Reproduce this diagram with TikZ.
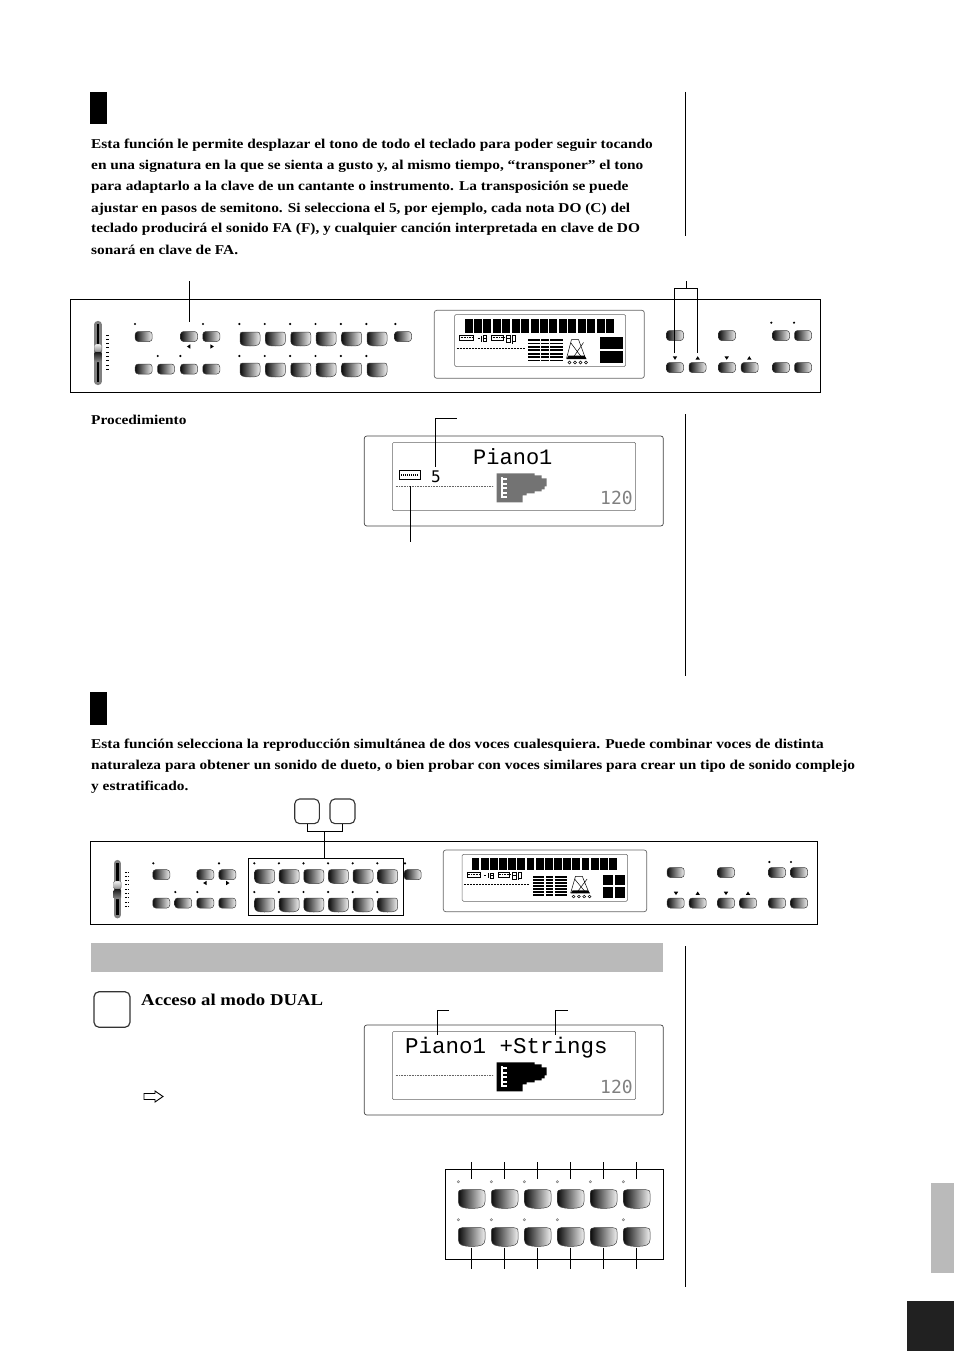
\documentclass[tikz,border=0pt]{standalone}
\usepackage{fontspec}
\setmainfont[FakeStretch=1.138]{Liberation Serif}
\newfontfamily\lcdfont{Liberation Mono}
\newfontfamily\numfont{DejaVu Sans Mono}
\usetikzlibrary{calc}
\tikzset{
	bodyline/.style={anchor=base west, inner sep=0pt, font=\fontsize{13.5}{16}\selectfont\bfseries},
	keyface/.style={left color=black!95, middle color=black!50, right color=black!6, draw=black!75, line width=0.5pt},
	panelframe/.style={draw=black, line width=0.9pt},
	lcdframe/.style={draw=black!60, line width=0.7pt, rounded corners=2.5pt},
	leader/.style={draw=black, line width=0.8pt},
	stepbox/.style={draw=black!80, line width=1.1pt, rounded corners=5pt, inner sep=0pt},
	lcdtext/.style={inner sep=0pt, anchor=base west}
}
\def\smallkey(#1,#2){\shadedraw[keyface, rounded corners=3pt, shift={(#1,#2)}] (-8.5,-5) rectangle (8.5,5);}
\def\bigkey[#1](#2,#3){\shadedraw[keyface, shift={(#2,#3)}, xscale=#1, yscale=#1]
	(-10,-4) .. controls (-10,-6.5) and (-9,-7) .. (-7,-7) -- (7,-7) .. controls (9,-7) and (10,-6.5) .. (10,-4) -- (10,2)
	.. controls (10,6) and (7,7) .. (0,7) .. controls (-7,7) and (-10,6) .. (-10,2) -- cycle;}
\def\dotmark(#1,#2){\fill (#1,#2) circle (1.2);}
\def\pale(#1,#2){\draw[black!55, fill=black!15, line width=0.4pt] (#1,#2) circle (1.2);}
\def\tickup(#1,#2){\fill[shift={(#1,#2)}] (-2.2,1.6) -- (2.2,1.6) -- (0,-1.8) -- cycle;}
\def\tickdown(#1,#2){\fill[shift={(#1,#2)}] (-2.2,-1.6) -- (2.2,-1.6) -- (0,1.8) -- cycle;}
\def\tickleft(#1,#2){\fill[shift={(#1,#2)}] (1.6,-2.2) -- (1.6,2.2) -- (-1.8,0) -- cycle;}
\def\tickright(#1,#2){\fill[shift={(#1,#2)}] (-1.6,-2.2) -- (-1.6,2.2) -- (1.8,0) -- cycle;}
\def\slider(#1,#2,#3,#4){
	\draw[line width=7.2pt, black!50, line cap=round] (#1,#2+3.5) -- (#1,#3-3.5);
	\draw[line width=2.4pt, black] (#1,#2+3) -- (#1,#3-3);
	\shadedraw[top color=black!5, bottom color=black!45, draw=black!60, line width=0.4pt, rounded corners=1.5pt] (#1-3.8,#4) rectangle (#1+3.8,#4+8);
	\shade[top color=black!90, bottom color=black!45, rounded corners=1.5pt] (#1-3.8,#4+8) rectangle (#1+3.8,#4+18);
	\foreach \n in {0,...,8} \draw[black, line width=0.9pt, dash pattern=on 1.6pt off 0.8pt] (#1+8,#4-9+4.3*\n) -- (#1+10.5,#4-9+4.3*\n);
}
% lcd contents, measured from the upper left corner of the inner frame
\def\minilcd[#1,#2](#3,#4){
	\begin{scope}[shift={(#3,#4)}, xscale=#1, yscale=#2]
		\foreach \n in {0,...,15} \fill (10+9.44*\n,4.5) rectangle (18+9.44*\n,18);
		\draw[line width=0.5pt] (5,20.5) rectangle (18.5,26);
		\draw[line width=1.4pt, dash pattern=on 0.8pt off 0.8pt] (6,23.2) -- (18,23.2);
		\draw[line width=0.5pt] (23,24) -- (25,24) (27,21) -- (27,27) (29,21) rectangle (32,27) (29,24) -- (32,24);
		\draw[line width=0.5pt] (37,20.5) rectangle (49,26);
		\draw[line width=1.4pt, dash pattern=on 0.8pt off 0.8pt] (38,23.2) -- (50,23.2);
		\draw[line width=0.6pt] (52,21) rectangle (56,28) (52,24) -- (56,24) (58,20) -- (58,29) (58,21) rectangle (61,27);
		\draw[line width=0.6pt, dash pattern=on 1pt off 0.5pt] (2,34) -- (70,34);
		\foreach \n in {0,...,6} {
			\draw[line width=1.8pt] (73.5,25.5+3.4*\n) -- (85,25.5+3.4*\n);
			\draw[line width=1.8pt] (86.5,25.5+3.4*\n) -- (94,25.5+3.4*\n);
			\draw[line width=1.8pt] (95.5,25.5+3.4*\n) -- (108,25.5+3.4*\n);
		}
		\draw[line width=0.5pt] (117,25) -- (124,25) -- (131,44) (117,25) -- (112,44) (116,28) -- (128,44) (129,28) -- (118,44);
		\fill (114,41) -- (130,41) -- (132,44.5) -- (112,44.5) -- cycle;
		\foreach \n in {0,1,2,3} \draw[line width=0.5pt] (115+5.5*\n,48) circle (1.5);
	\end{scope}
}
\def\pianoicon(#1,#2,#3){
	\begin{scope}[shift={(#1,#2)}]
		\fill[#3] (0,0) -- (38,0) -- (38,2) -- (45,2) -- (45,5) -- (50,5) -- (50,13) -- (48,13) -- (48,16) -- (45,16) -- (45,18) -- (38,18) -- (38,20) -- (30,20) -- (30,22) -- (26,22) -- (26,29) -- (0,29) -- cycle;
		\fill[white] (4,4) rectangle (6,25);
		\foreach \n in {0,...,4} \fill[white] (6,5+4.4*\n) rectangle (10,7+4.4*\n);
	\end{scope}
}
\begin{document}
\begin{tikzpicture}[x=1pt,y=-1pt]
	%%%%% START %%%%%
	\useasboundingbox (0,0) rectangle (954,1351);
	
	\fill (90,92) rectangle (107,124);
	\fill (90,692) rectangle (107,725);
	\draw[line width=0.7pt] (685,92) -- (685,236);
	\draw[line width=0.7pt] (685,414) -- (685,676);
	\draw[line width=0.7pt] (685,946) -- (685,1287);
	
	\node[bodyline] (introa) at (91,149) {Esta función le permite desplazar el tono de todo el teclado para poder seguir tocando};
	\node[bodyline] (introb) at (91,170) {en una signatura en la que se sienta a gusto y, al mismo tiempo, “transponer” el tono};
	\node[bodyline] (introc) at (91,191) {para adaptarlo a la clave de un cantante o instrumento. La transposición se puede};
	\node[bodyline] (introd) at (91,212) {ajustar en pasos de semitono. Si selecciona el 5, por ejemplo, cada nota DO (C) del};
	\node[bodyline] (introe) at (91,233) {teclado producirá el sonido FA (F), y cualquier canción interpretada en clave de DO};
	\node[bodyline] (introf) at (91,254) {sonará en clave de FA.};
	
	% first panel
	\draw[panelframe] (70,299) rectangle (820.5,392);
	\slider(98,321,385,344)
	\smallkey(143.7,336.5) \smallkey(189,336.5) \smallkey(211.3,336.5) \smallkey(403,336.5)
	\smallkey(143.7,369) \smallkey(166,369) \smallkey(189,369) \smallkey(211.3,369)
	\foreach \n in {0,...,5} {
		\bigkey[1](250+25.4*\n,339)
		\bigkey[1](250+25.4*\n,370)
		\dotmark(239.3+25.4*\n,324)
		\dotmark(239.3+25.4*\n,356)
	}
	\dotmark(135,324) \dotmark(203,324) \dotmark(395.3,324) \dotmark(157.7,356) \dotmark(180.3,356)
	\tickleft(188.7,346.5) \tickright(212,346.5)
	\draw[lcdframe] (434.3,310.3) rectangle (644.3,378.3);
	\draw[lcdframe, line width=0.5pt, rounded corners=1.5pt] (454.5,314.5) rectangle (625.7,366.5);
	\minilcd[1,1](454.5,314.5)
	\fill (600,337) rectangle (622.7,349.3);
	\fill (600,351) rectangle (622.7,363);
	\smallkey(675,335.5) \smallkey(727,335.5) \smallkey(781,335.5) \smallkey(803,335.5)
	\foreach \x in {675,697.5,727,749.7,781,803} {\smallkey(\x,367.5)}
	\tickdown(675,358) \tickup(697.7,358) \tickdown(726.7,358) \tickup(749.3,358)
	\dotmark(771.3,322.7) \dotmark(794,322.7)
	\draw[leader] (189,281) -- (189,322);
	\draw[leader] (686.3,281) -- (686.3,288.7);
	\draw[leader] (674.7,353) -- (674.7,288.7) -- (697.7,288.7) -- (697.7,353);
	
	\node[bodyline] (procedure) at (91,424) {Procedimiento};
	
	% display with transpose
	\draw[lcdframe, black!75] (364.3,436) rectangle (663.3,526);
	\draw[lcdframe, line width=0.5pt, rounded corners=1.5pt] (392.3,442.3) rectangle (635.7,510.7);
	\node[lcdtext] (voicea) at (473,464) {\lcdfont\fontsize{22}{22}\selectfont Piano1};
	\node[lcdtext] (transval) at (431,482) {\numfont\fontsize{16}{16}\selectfont 5};
	\draw[line width=0.6pt] (399.3,470.7) rectangle (420,479);
	\draw[line width=2.6pt, dash pattern=on 1pt off 1pt] (401,474.8) -- (419,474.8);
	\draw[black!60, line width=0.7pt, dash pattern=on 0.8pt off 0.8pt] (395.7,486.3) -- (493.3,486.3);
	\pianoicon(496.7,473.3,black!55)
	\node[lcdtext, text=black!50] (tempoa) at (600,504) {\numfont\fontsize{18}{18}\selectfont 120};
	\draw[leader] (456.7,418.3) -- (435.7,418.3) -- (435.7,467.3);
	\draw[leader] (410,486) -- (410,541.7);
	
	\node[bodyline] (duala) at (91,748) {Esta función selecciona la reproducción simultánea de dos voces cualesquiera. Puede combinar voces de distinta};
	\node[bodyline] (dualb) at (91,769) {naturaleza para obtener un sonido de dueto, o bien probar con voces similares para crear un tipo de sonido complejo};
	\node[bodyline] (dualc) at (91,790) {y estratificado.};
	
	% second panel
	\draw[panelframe] (90,841) rectangle (817.5,924.3);
	\slider(117.3,860,918.3,881)
	\smallkey(161.3,874.7) \smallkey(205.3,874.7) \smallkey(227.3,874.7) \smallkey(412.7,874.7)
	\smallkey(161.3,903) \smallkey(183.2,903) \smallkey(205.3,903) \smallkey(227.3,903)
	\foreach \n in {0,...,5} {
		\bigkey[1](264.6+24.6*\n,876.7)
		\bigkey[1](264.6+24.6*\n,905)
		\dotmark(254.3+24.6*\n,863.3)
		\dotmark(254.3+24.6*\n,892)
	}
	\dotmark(153.3,863.3) \dotmark(219,863.3) \dotmark(405,863.3) \dotmark(175.3,892) \dotmark(197.3,892)
	\tickleft(205,883) \tickright(227.7,883)
	\draw[lcdframe] (443.3,850) rectangle (646.7,911.7);
	\draw[lcdframe, line width=0.5pt, rounded corners=1.5pt] (462,854.3) rectangle (627.7,901.3);
	\minilcd[.97,.88](462,854.3)
	\fill (602.7,875) rectangle (612.8,885);
	\fill (614.5,875) rectangle (625,885);
	\fill (602.7,887) rectangle (612.8,897.7);
	\fill (614.5,887) rectangle (625,897.7);
	\smallkey(675.7,872.5) \smallkey(726,872.5) \smallkey(777,872.5) \smallkey(799,872.5)
	\foreach \x in {675.7,697.7,726,748,777,799} {\smallkey(\x,903)}
	\tickdown(676,893.3) \tickup(697.7,893.3) \tickdown(726,893.3) \tickup(748,893.3)
	\dotmark(769.3,862) \dotmark(791,862)
	\draw[black, line width=1pt] (248.3,858.3) rectangle (403.7,915.7);
	
	\node[stepbox, minimum width=24.6pt, minimum height=24.7pt] (stepa) at (307,811.3) {};
	\node[stepbox, minimum width=25pt, minimum height=24.7pt] (stepb) at (342.5,811.3) {};
	\coordinate (joint) at (324.3,831.7);
	\coordinate (keytop) at (324.3,858.3);
	\draw[leader] (stepa.south) |- (joint) -| (stepb.south);
	\draw[leader] (joint) -- (keytop);
	
	% gray heading bar
	\fill[black!27] (91,943) rectangle (663,972);
	
	\node[stepbox, minimum width=36pt, minimum height=35.5pt, line width=1.2pt] (stepc) at (112,1009.5) {};
	\node[bodyline, font=\fontsize{16.5}{20}\selectfont\bfseries] (dualhead) at (141,1005) {Acceso al modo DUAL};
	\draw[line width=0.9pt] (144,1093.5) -- (155,1093.5) -- (155,1091) -- (163,1096.5) -- (155,1102) -- (155,1099.5) -- (144,1099.5) -- cycle;
	
	% display with two voices
	\draw[lcdframe, black!75] (364.3,1025) rectangle (663.3,1115);
	\draw[lcdframe, line width=0.5pt, rounded corners=1.5pt] (392.3,1031.3) rectangle (635.7,1099.7);
	\node[lcdtext] (voiceb) at (405,1053) {\lcdfont\fontsize{22.5}{22.5}\selectfont Piano1 +Strings};
	\draw[black!60, line width=0.7pt, dash pattern=on 0.8pt off 0.8pt] (395.7,1075.3) -- (493.3,1075.3);
	\pianoicon(496.7,1062.3,black)
	\node[lcdtext, text=black!50] (tempob) at (600,1093) {\numfont\fontsize{18}{18}\selectfont 120};
	\draw[leader] (449,1010) -- (437,1010) -- (437,1035);
	\draw[leader] (568,1010) -- (555,1010) -- (555,1035);
	
	% voice keys
	\draw[panelframe] (445.3,1169.3) rectangle (663.7,1259.3);
	\foreach \n in {0,...,5} {
		\bigkey[1.33](471.7+33*\n,1199)
		\bigkey[1.33](471.7+33*\n,1237)
		\pale(458.3+33*\n,1181.7)
		\draw[leader] (471.3+33*\n,1162.3) -- (471.3+33*\n,1179.3);
		\draw[leader] (471.3+33*\n,1247.7) -- (471.3+33*\n,1269);
	}
	\foreach \n in {0,1,2,3,5} {\pale(458.3+33*\n,1219.7)}
	
	% page tabs
	\fill[black!27] (931,1183) rectangle (954,1273);
	\fill[black!87] (907,1301) rectangle (954,1351);
	%%%%% END %%%%%
\end{tikzpicture}
\end{document}
